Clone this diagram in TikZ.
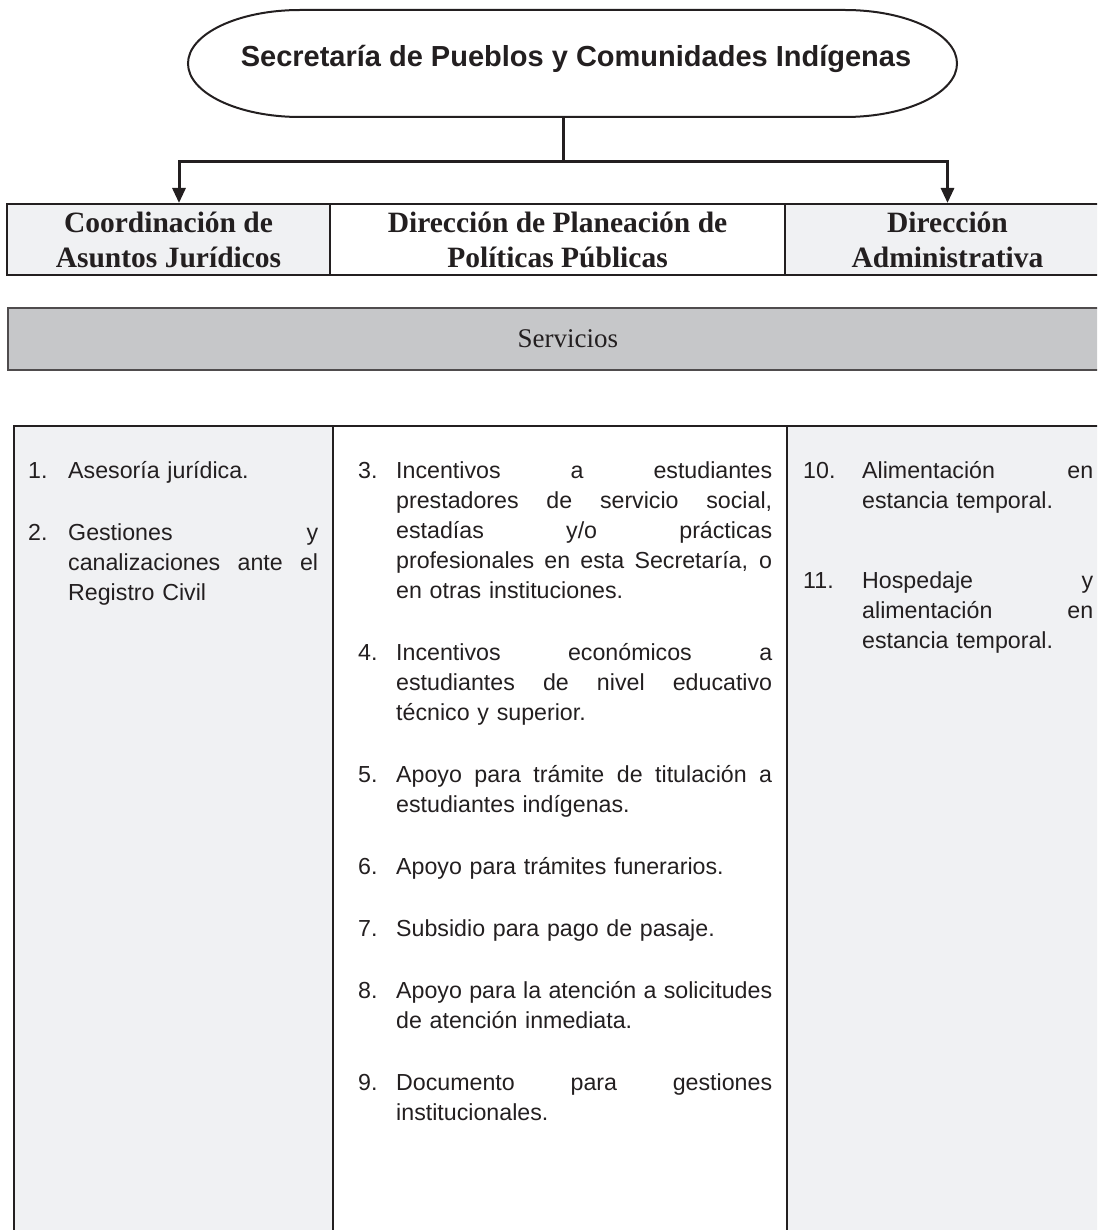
\documentclass[tikz,border=0pt]{standalone}
\usepackage{fontspec}
\setmainfont{Liberation Serif}
\setsansfont{Liberation Sans}
\usetikzlibrary{arrows.meta}
\definecolor{panelgray}{HTML}{F0F1F3}
\definecolor{bargray}{HTML}{C6C7C9}
\definecolor{ink}{HTML}{231F20}
\newcommand{\fullline}[1]{\leavevmode\hbox to\hsize{\spaceskip=0.28em plus 1fil\xspaceskip=\spaceskip\relax #1}\\}

\begin{document}
\begin{tikzpicture}[x=1pt, y=1pt, ink,
  arr/.style={line width=3pt, -{Triangle[width=13pt,length=15pt]}},
  topbox/.style={draw, line width=2pt, minimum height=71pt, inner sep=0pt,
    align=center, font=\bfseries\fontsize{29.5}{35}\selectfont},
  srvnum/.style={anchor=base west, inner sep=0pt, font=\sffamily\fontsize{23.2}{30}\selectfont},
  srvtxt/.style={srvnum, align=left}]
\useasboundingbox (0,0) rectangle (1097,-1230);
\clip (0,0) rectangle (1097,-1230);

% head of the organisation
\draw[line width=2pt] (300,-10) -- (845,-10)
  arc[start angle=90, end angle=-90, x radius=112, y radius=53.5] -- (300,-117)
  arc[start angle=270, end angle=90, x radius=112, y radius=53.5] -- cycle;
\node[font=\sffamily\bfseries\fontsize{29}{34}\selectfont] (sec) at (576,-59)
  {Secretaría de Pueblos y Comunidades Indígenas};

% units
\node[topbox, fill=panelgray, minimum width=323pt] (coord) at (168.5,-239.5)
  {Coordinación de\\Asuntos Jurídicos};
\node[topbox, minimum width=455pt] (plan) at (557.5,-239.5)
  {Dirección de Planeación de\\Políticas Públicas};
\node[topbox, fill=panelgray, minimum width=325pt] (admin) at (947.5,-239.5)
  {Dirección\\Administrativa};

\coordinate (secb) at (563,-117);
\coordinate (jn) at (563,-162);
\draw[line width=3pt] (secb) -- (jn);
\draw[arr] (jn) -| ([xshift=10.5pt]coord.north);
\draw[arr] (jn) -| (admin.north);

\node[draw=ink!80, line width=1.5pt, fill=bargray, minimum width=1120pt, minimum height=62pt,
  inner sep=0pt, anchor=north west, font=\fontsize{27}{32}\selectfont] (serv) at (7,-307) {Servicios};

% services table
\fill[panelgray] (14,-426) rectangle (333,-1240);
\fill[panelgray] (787,-426) rectangle (1110,-1240);
\draw[line width=2pt] (14,-1240) -- (14,-426) -- (1110,-426);
\draw[line width=2pt] (333,-426) -- (333,-1240);
\draw[line width=2pt] (787,-426) -- (787,-1240);

\node[srvnum] (n1) at (28,-478) {1.};
\node[srvtxt, text width=250pt] (t1) at (68,-478) {Asesoría jurídica.};
\node[srvnum] (n2) at (28,-540) {2.};
\node[srvtxt, text width=250pt] (t2) at (68,-540)
  {\fullline{Gestiones y}\fullline{canalizaciones ante el}Registro Civil};

\node[srvnum] (n3) at (358,-478) {3.};
\node[srvtxt, text width=376pt] (t3) at (396,-478)
  {\fullline{Incentivos a estudiantes}\fullline{prestadores de servicio social,}%
   \fullline{estadías y/o prácticas}\fullline{profesionales en esta Secretaría, o}en otras instituciones.};
\node[srvnum] (n4) at (358,-660) {4.};
\node[srvtxt, text width=376pt] (t4) at (396,-660)
  {\fullline{Incentivos económicos a}\fullline{estudiantes de nivel educativo}técnico y superior.};
\node[srvnum] (n5) at (358,-782) {5.};
\node[srvtxt, text width=376pt] (t5) at (396,-782)
  {\fullline{Apoyo para trámite de titulación a}estudiantes indígenas.};
\node[srvnum] (n6) at (358,-874) {6.};
\node[srvtxt, text width=376pt] (t6) at (396,-874) {Apoyo para trámites funerarios.};
\node[srvnum] (n7) at (358,-936) {7.};
\node[srvtxt, text width=376pt] (t7) at (396,-936) {Subsidio para pago de pasaje.};
\node[srvnum] (n8) at (358,-998) {8.};
\node[srvtxt, text width=376pt] (t8) at (396,-998)
  {\fullline{Apoyo para la atención a solicitudes}de atención inmediata.};
\node[srvnum] (n9) at (358,-1090) {9.};
\node[srvtxt, text width=376pt] (t9) at (396,-1090)
  {\fullline{Documento para gestiones}institucionales.};

\node[srvnum] (n10) at (803,-478) {10.};
\node[srvtxt, text width=231pt] (t10) at (862,-478)
  {\fullline{Alimentación en}estancia temporal.};
\node[srvnum] (n11) at (803,-588) {11.};
\node[srvtxt, text width=231pt] (t11) at (862,-588)
  {\fullline{Hospedaje y}\fullline{alimentación en}estancia temporal.};
\end{tikzpicture}
\end{document}
